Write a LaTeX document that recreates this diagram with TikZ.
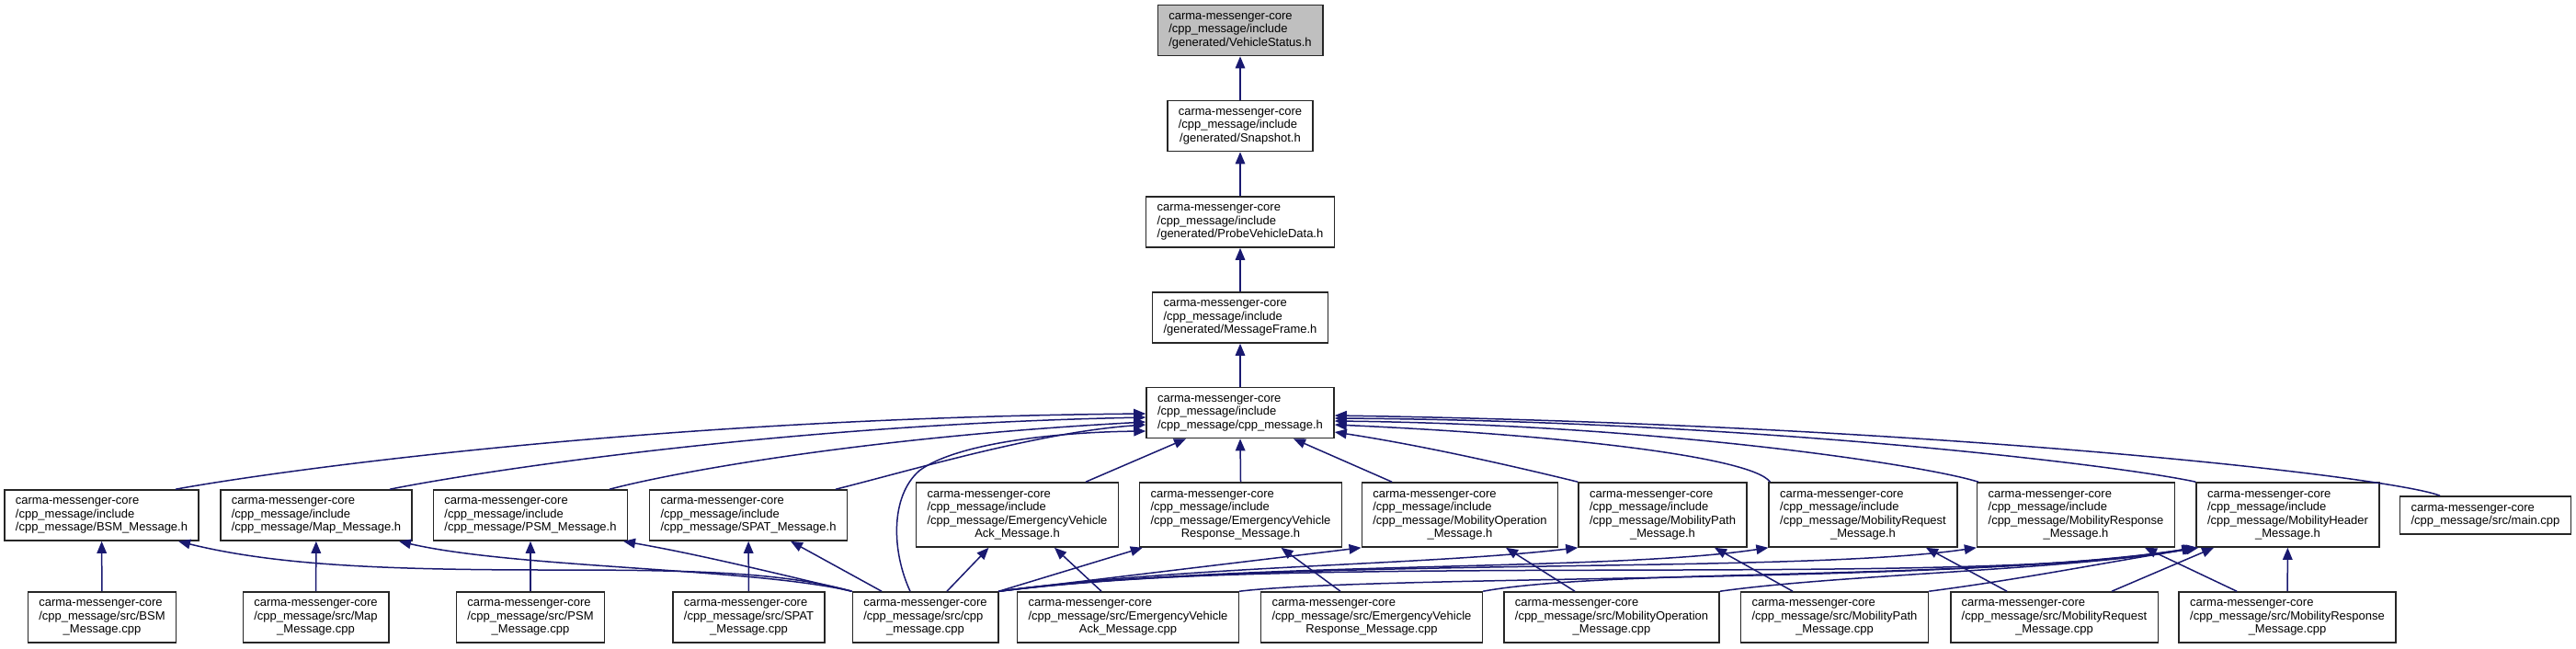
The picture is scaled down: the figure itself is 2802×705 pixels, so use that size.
\documentclass[tikz,border=0pt]{standalone}
\usepackage{fontspec}
\setmainfont{Liberation Sans}
\usetikzlibrary{arrows.meta}
\definecolor{navyedge}{RGB}{25,25,112}
\definecolor{topfill}{RGB}{191,191,191}
\newcommand{\labtwo}[2]{\begin{tabular}{@{}l@{}}#1\\\multicolumn{1}{@{}c@{}}{#2}\end{tabular}}
\newcommand{\labthree}[3]{\begin{tabular}{@{}l@{}}#1\\#2\\\multicolumn{1}{@{}c@{}}{#3}\end{tabular}}
\newcommand{\labfour}[4]{\begin{tabular}{@{}l@{}}#1\\#2\\#3\\\multicolumn{1}{@{}c@{}}{#4}\end{tabular}}
\newcommand{\cmc}{carma-messenger-core}
\newcommand{\cmi}{/cpp\_message/include}
\tikzset{
  box/.style={draw=black!85, line width=1.6pt, fill=white, inner xsep=12pt, inner ysep=0pt,
    font=\fontsize{13}{14.5}\selectfont},
  threeline/.style={box, minimum height=55pt},
  fourline/.style={box, minimum height=70pt},
  twoline/.style={box, minimum height=41pt},
  edge/.style={draw=navyedge, line width=1.5pt, -{Triangle[length=13pt,width=10.5pt]}}
}
\begin{document}
\begin{tikzpicture}[x=1pt,y=-1pt]
\useasboundingbox (0,0) rectangle (2802,705);
% top chain
\node[threeline, fill=topfill] (vs) at (1349,33) {\labthree{\cmc}{\cmi}{/generated/VehicleStatus.h}};
\node[threeline] (snap) at (1349,137) {\labthree{\cmc}{\cmi}{/generated/Snapshot.h}};
\node[threeline] (probe) at (1349,241.5) {\labthree{\cmc}{\cmi}{/generated/ProbeVehicleData.h}};
\node[threeline] (mf) at (1349,345.5) {\labthree{\cmc}{\cmi}{/generated/MessageFrame.h}};
\node[threeline] (cmh) at (1349,449) {\labthree{\cmc}{\cmi}{/cpp\_message/cpp\_message.h}};
% row 2
\node[threeline] (bsmh) at (110.5,560.5) {\labthree{\cmc}{\cmi}{/cpp\_message/BSM\_Message.h}};
\node[threeline] (maph) at (344,560.5) {\labthree{\cmc}{\cmi}{/cpp\_message/Map\_Message.h}};
\node[threeline] (psmh) at (577,560.5) {\labthree{\cmc}{\cmi}{/cpp\_message/PSM\_Message.h}};
\node[threeline] (spath) at (814,560.5) {\labthree{\cmc}{\cmi}{/cpp\_message/SPAT\_Message.h}};
\node[fourline] (evackh) at (1106.5,560) {\labfour{\cmc}{\cmi}{/cpp\_message/EmergencyVehicle}{Ack\_Message.h}};
\node[fourline] (evresph) at (1349.5,560) {\labfour{\cmc}{\cmi}{/cpp\_message/EmergencyVehicle}{Response\_Message.h}};
\node[fourline] (mobopth) at (1588,560) {\labfour{\cmc}{\cmi}{/cpp\_message/MobilityOperation}{\_Message.h}};
\node[fourline] (mobpathh) at (1808.5,560) {\labfour{\cmc}{\cmi}{/cpp\_message/MobilityPath}{\_Message.h}};
\node[fourline] (mobreqh) at (2026.5,560) {\labfour{\cmc}{\cmi}{/cpp\_message/MobilityRequest}{\_Message.h}};
\node[fourline] (mobresph) at (2258,560) {\labfour{\cmc}{\cmi}{/cpp\_message/MobilityResponse}{\_Message.h}};
\node[fourline] (mobheadh) at (2488.5,560) {\labfour{\cmc}{\cmi}{/cpp\_message/MobilityHeader}{\_Message.h}};
\node[twoline] (maincpp) at (2703.5,560.5) {\labtwo{\cmc}{/cpp\_message/src/main.cpp}};
% row 3
\node[threeline] (bsmc) at (111,671.5) {\labthree{\cmc}{/cpp\_message/src/BSM}{\_Message.cpp}};
\node[threeline] (mapc) at (343.5,671.5) {\labthree{\cmc}{/cpp\_message/src/Map}{\_Message.cpp}};
\node[threeline] (psmc) at (577,671.5) {\labthree{\cmc}{/cpp\_message/src/PSM}{\_Message.cpp}};
\node[threeline] (spatc) at (814.5,671.5) {\labthree{\cmc}{/cpp\_message/src/SPAT}{\_Message.cpp}};
\node[threeline] (cppc) at (1006.5,671.5) {\labthree{\cmc}{/cpp\_message/src/cpp}{\_message.cpp}};
\node[threeline] (evackc) at (1227,671.5) {\labthree{\cmc}{/cpp\_message/src/EmergencyVehicle}{Ack\_Message.cpp}};
\node[threeline] (evrespc) at (1492,671.5) {\labthree{\cmc}{/cpp\_message/src/EmergencyVehicle}{Response\_Message.cpp}};
\node[threeline] (mobopc) at (1753,671.5) {\labthree{\cmc}{/cpp\_message/src/MobilityOperation}{\_Message.cpp}};
\node[threeline] (mobpathc) at (1995.5,671.5) {\labthree{\cmc}{/cpp\_message/src/MobilityPath}{\_Message.cpp}};
\node[threeline] (mobreqc) at (2234.5,671.5) {\labthree{\cmc}{/cpp\_message/src/MobilityRequest}{\_Message.cpp}};
\node[threeline] (mobrespc) at (2488,671.5) {\labthree{\cmc}{/cpp\_message/src/MobilityResponse}{\_Message.cpp}};
% chain edges
\draw[edge] (snap) -- (vs);
\draw[edge] (probe) -- (snap);
\draw[edge] (mf) -- (probe);
\draw[edge] (cmh) -- (mf);
% into cpp_message.h
\draw[edge] ([xshift=80.5pt]bsmh.north) .. controls (290,514) and (700,455) .. ([yshift=-1pt]cmh.west);
\draw[edge] ([xshift=80pt]maph.north) .. controls (520,513) and (850,462) .. ([yshift=-5pt]cmh.west);
\draw[edge] ([xshift=86pt]psmh.north) .. controls (740,512) and (950,475) .. ([yshift=-10pt]cmh.west);
\draw[edge] ([xshift=95pt]spath.north) .. controls (990,512) and (1130,470) .. ([yshift=-13pt]cmh.west);
\draw[edge] ([xshift=-16.5pt]cppc.north) .. controls (970,600) and (968,540) .. (1000,512) .. controls (1040,482) and (1150,470) .. ([yshift=-20pt]cmh.west);
\draw[edge] ([xshift=74.5pt]evackh.north) -- ([xshift=-59pt]cmh.south);
\draw[edge] (evresph.north) -- (cmh.south);
\draw[edge] ([xshift=-74pt]mobopth.north) -- ([xshift=58pt]cmh.south);
\draw[edge] (mobpathh.north west) .. controls (1650,508) and (1550,485) .. ([yshift=-21pt]cmh.east);
\draw[edge] ([xshift=2pt]mobreqh.north west) .. controls (1905,497) and (1700,473) .. ([yshift=-13pt]cmh.east);
\draw[edge] ([xshift=2pt]mobresph.north west) .. controls (2090,505) and (1800,462) .. ([yshift=-9pt]cmh.east);
\draw[edge] (mobheadh.north west) .. controls (2300,505) and (1900,458) .. ([yshift=-6pt]cmh.east);
\draw[edge] ([xshift=-49.5pt]maincpp.north) .. controls (2600,518) and (2100,462) .. ([yshift=-3pt]cmh.east);
% row 3 to own headers
\draw[edge] (bsmc) -- (bsmh);
\draw[edge] (mapc) -- (maph);
\draw[edge] (psmc) -- (psmh);
\draw[edge] (spatc) -- (spath);
\draw[edge] ([xshift=-29pt]evackc.north) -- ([xshift=40.5pt]evackh.south);
\draw[edge] ([xshift=-34pt]evrespc.north) -- ([xshift=44pt]evresph.south);
\draw[edge] ([xshift=-40pt]mobopc.north) -- ([xshift=50pt]mobopth.south);
\draw[edge] ([xshift=-45.5pt]mobpathc.north) -- ([xshift=56.5pt]mobpathh.south);
\draw[edge] ([xshift=-51.5pt]mobreqc.north) -- ([xshift=68.5pt]mobreqh.south);
\draw[edge] ([xshift=-55pt]mobrespc.north) -- ([xshift=75pt]mobresph.south);
% cpp_message.cpp to headers
\draw[edge] (cppc.north west) .. controls (850,622) and (750,620) .. (600,620) .. controls (420,620) and (300,615) .. ([xshift=83.5pt]bsmh.south);
\draw[edge] (cppc.north west) .. controls (820,618) and (560,618) .. ([xshift=90pt]maph.south);
\draw[edge] (cppc.north west) .. controls (850,625) and (760,603) .. ([xshift=101pt]psmh.south);
\draw[edge] ([xshift=-47.5pt]cppc.north) -- ([xshift=46pt]spath.south);
\draw[edge] ([xshift=23.5pt]cppc.north) -- ([xshift=-31pt]evackh.south);
\draw[edge] (cppc.north east) -- ([xshift=4pt]evresph.south west);
\draw[edge] (cppc.north east) -- (mobopth.south west);
\draw[edge] (cppc.north east) .. controls (1300,615) and (1550,615) .. (mobpathh.south west);
\draw[edge] (cppc.north east) .. controls (1350,610) and (1750,622) .. (mobreqh.south west);
\draw[edge] (cppc.north east) .. controls (1400,605) and (1950,625) .. (mobresph.south west);
\draw[edge] (cppc.north east) .. controls (1400,600) and (2150,640) .. ([xshift=-2pt]mobheadh.south west);
% into MobilityHeader
\draw[edge] (evackc.north east) .. controls (1500,625) and (2150,635) .. ([xshift=-1pt]mobheadh.south west);
\draw[edge] (evrespc.north east) .. controls (1750,618) and (2150,632) .. (mobheadh.south west);
\draw[edge] (mobopc.north east) .. controls (2000,625) and (2250,620) .. ([xshift=1pt]mobheadh.south west);
\draw[edge] (mobpathc.north east) .. controls (2200,630) and (2300,610) .. ([xshift=3pt]mobheadh.south west);
\draw[edge] ([xshift=62.5pt]mobreqc.north) -- ([xshift=-80.5pt]mobheadh.south);
\draw[edge] (mobrespc) -- (mobheadh);
\end{tikzpicture}
\end{document}
